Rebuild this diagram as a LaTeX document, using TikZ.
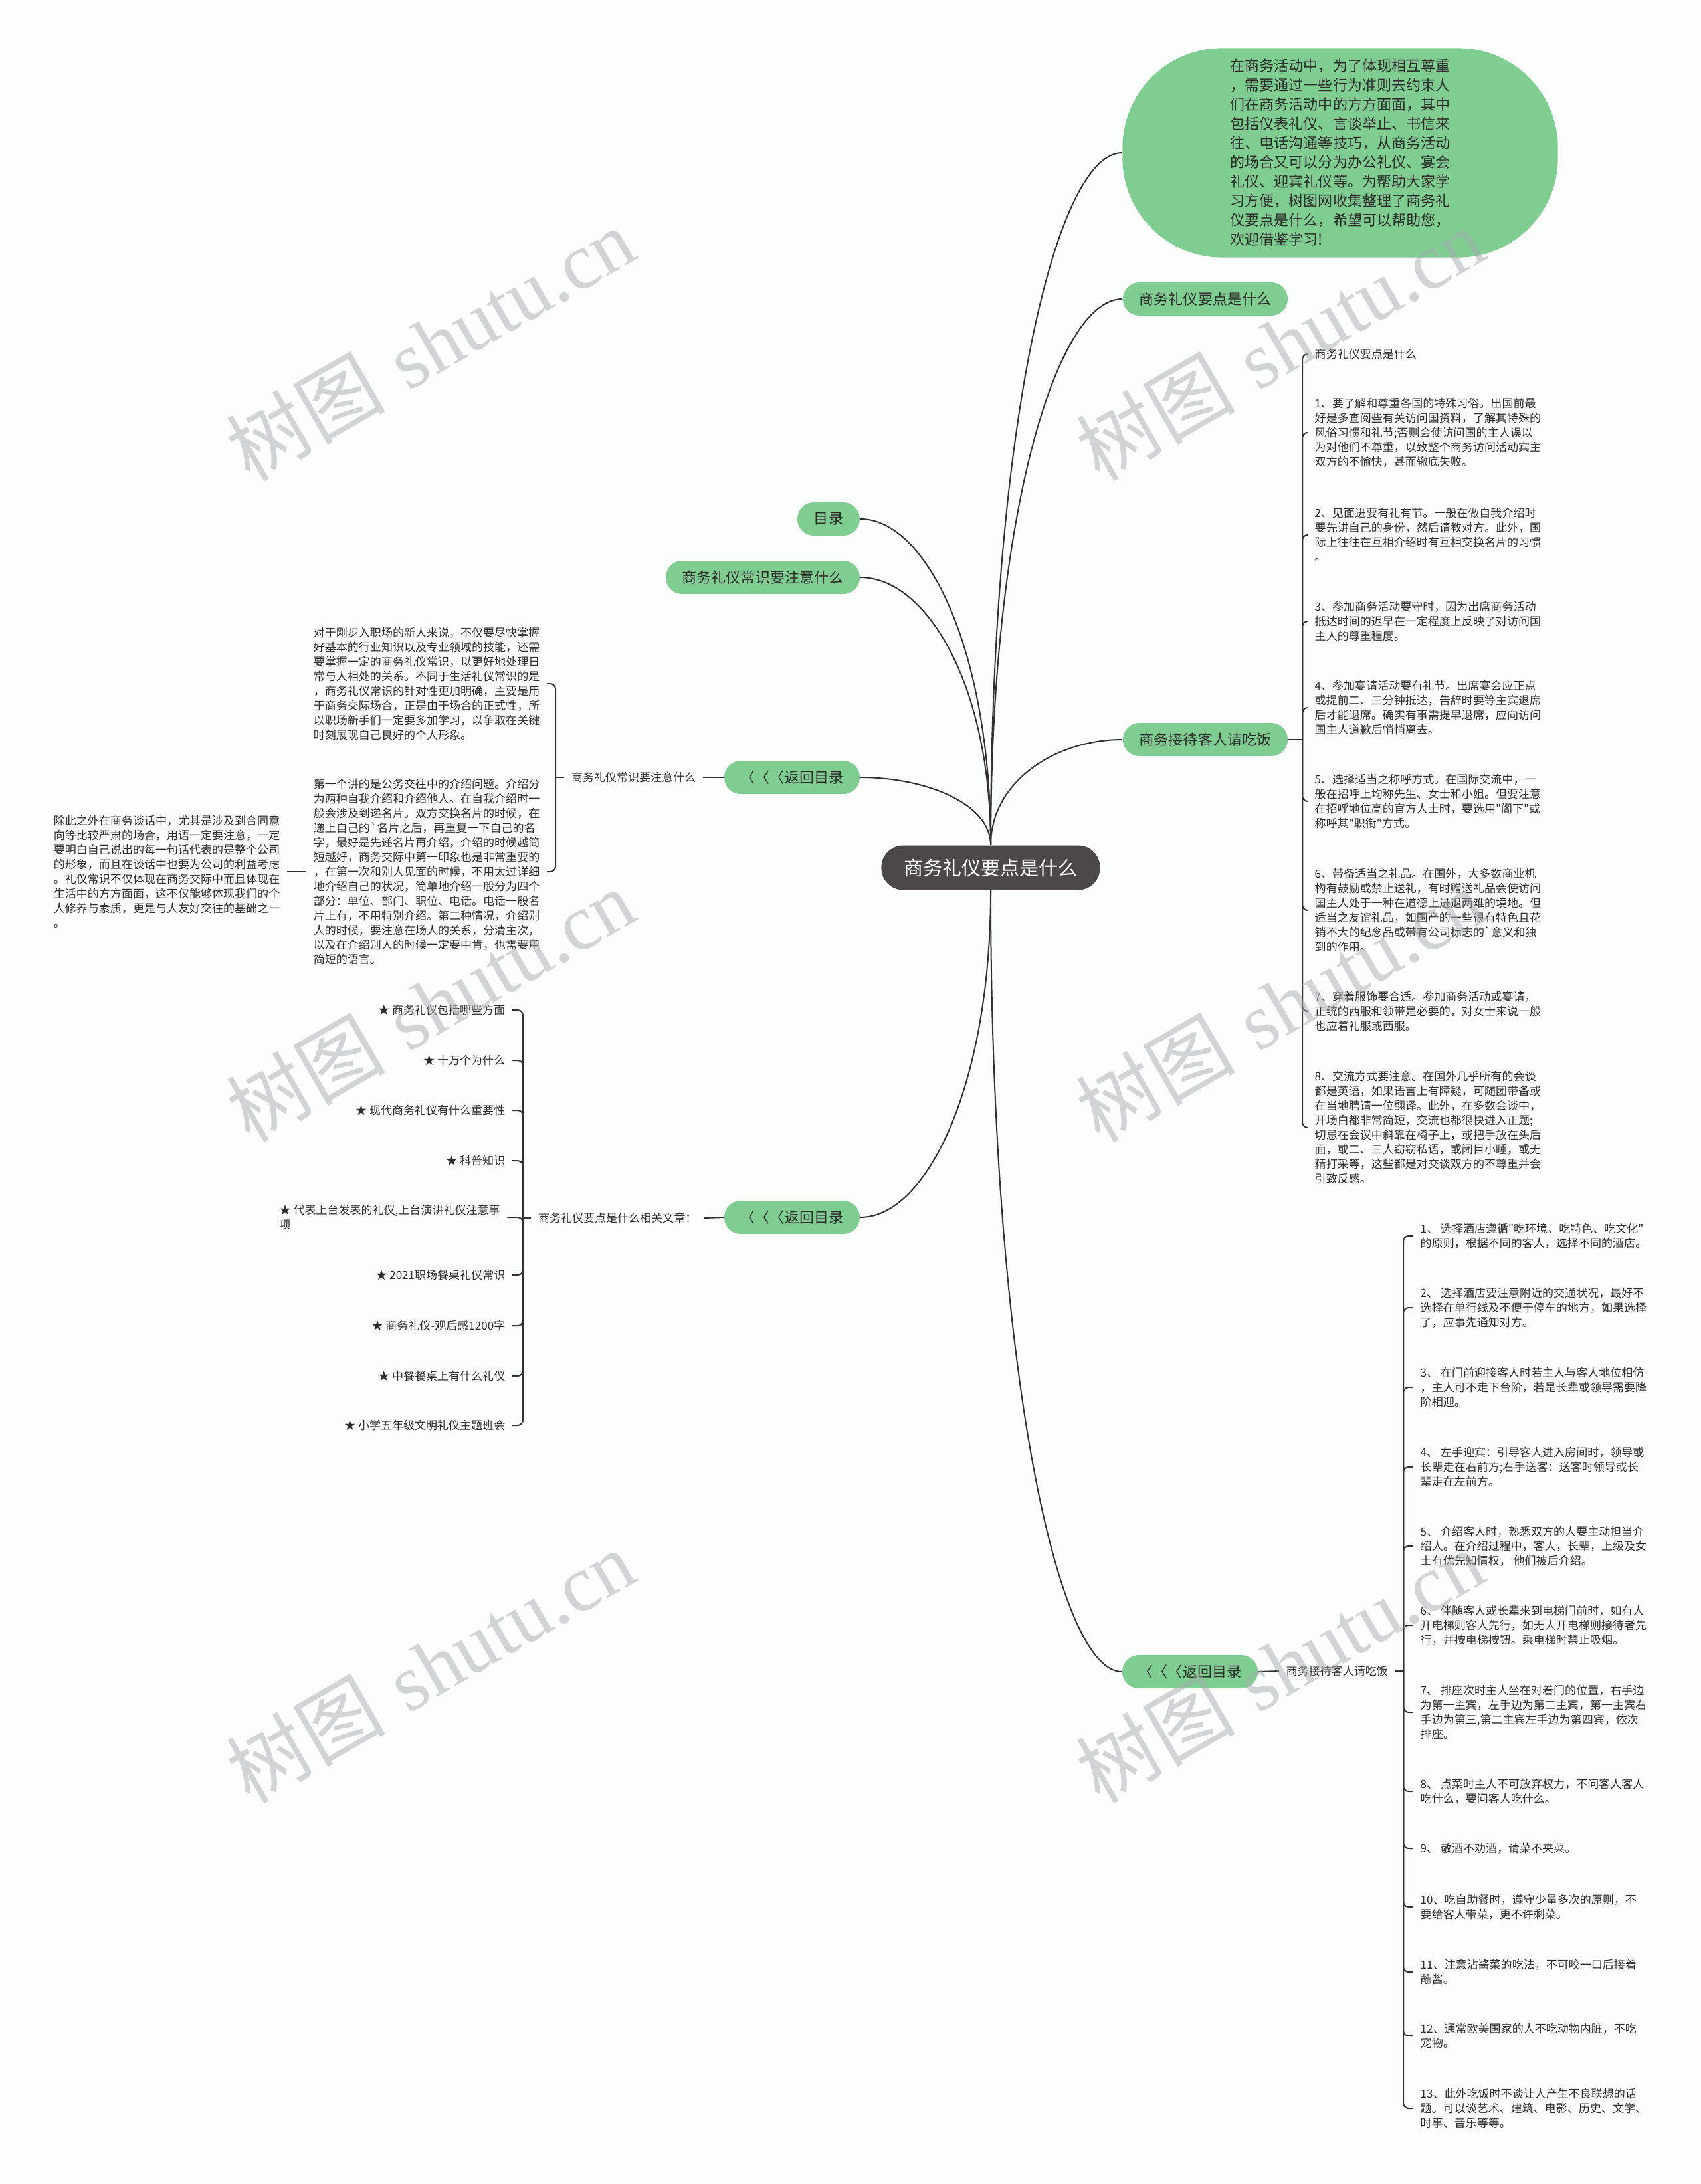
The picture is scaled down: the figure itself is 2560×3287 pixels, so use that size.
\documentclass[tikz,border=0pt]{standalone}
\usepackage{fontspec}
\newfontfamily\cjk{Noto Sans CJK SC}
\newfontfamily\wmfont{Liberation Serif}

\definecolor{leaf}{RGB}{128,205,146}
\definecolor{rootgray}{RGB}{77,72,72}
\definecolor{ink}{RGB}{45,45,45}
\definecolor{wire}{RGB}{50,48,48}
\definecolor{paper}{RGB}{252,253,253}
\definecolor{wmgray}{RGB}{165,172,172}

\tikzset{
  topic/.style={fill=leaf, rounded corners=2.5mm, minimum height=5mm, inner xsep=2.5mm, inner ysep=0pt, text=ink, font=\cjk\fontsize{6.26}{7.5}\selectfont},
  rootnode/.style={fill=rootgray, rounded corners=3.3mm, minimum height=6.7mm, inner xsep=3.4mm, inner ysep=0pt, text=white, font=\cjk\fontsize{8.25}{10}\selectfont},
  bubble/.style={fill=leaf, rounded corners=15mm, minimum width=65.5mm, minimum height=31.5mm, align=left, text=ink, font=\cjk\fontsize{6.26}{8.25}\selectfont},
  leaftext/.style={inner xsep=1mm, inner ysep=0pt, align=left, text=ink, font=\cjk\fontsize{4.84}{6.26}\selectfont},
  link/.style={draw=wire, line width=0.2mm},
  hook/.style={link, rounded corners=0.8mm},
  wmark/.style={rotate=30, text=wmgray, text opacity=0.5, font=\fontsize{34}{34}\selectfont}
}

\begin{document}
\begin{tikzpicture}[x=0.01cm, y=-0.01cm]

% page
\fill[paper] (0,0) rectangle (2560,3287);
\useasboundingbox (0,0) rectangle (2560,3287);

% main topics
\node[rootnode] (root) at (1491,1306) {商务礼仪要点是什么};
\node[bubble] (intro) at (2017,230) {在商务活动中，为了体现相互尊重\\，需要通过一些行为准则去约束人\\们在商务活动中的方方面面，其中\\包括仪表礼仪、言谈举止、书信来\\往、电话沟通等技巧，从商务活动\\的场合又可以分为办公礼仪、宴会\\礼仪、迎宾礼仪等。为帮助大家学\\习方便，树图网收集整理了商务礼\\仪要点是什么，希望可以帮助您，\\欢迎借鉴学习!};
\node[topic] (keypts) at (1814,450) {商务礼仪要点是什么};
\node[topic] (dine) at (1814,1113) {商务接待客人请吃饭};
\node[topic] (toc) at (1247,781) {目录};
\node[topic] (know) at (1148,869) {商务礼仪常识要注意什么};
\node[topic] (back1) at (1192,1170) {〈〈〈返回目录};
\node[topic] (back2) at (1192,1832) {〈〈〈返回目录};
\node[topic] (back3) at (1791,2516) {〈〈〈返回目录};

% curves from the root
\draw[link] (root.north) .. controls +(0,-626) and +(-100,0) .. (intro.west);
\draw[link] (root.north) .. controls +(0,-494) and +(-100,0) .. (keypts.west);
\draw[link] (root.north) .. controls +(0,-96) and +(-100,0) .. (dine.west);
\draw[link] (root.north) .. controls +(0,-295) and +(99,0) .. (toc.east);
\draw[link] (root.north) .. controls +(0,-242) and +(99,0) .. (know.east);
\draw[link] (root.north) .. controls +(0,-62) and +(99,0) .. (back1.east);
\draw[link] (root.south) .. controls +(0,295) and +(99,0) .. (back2.east);
\draw[link] (root.south) .. controls +(0,706) and +(-99,0) .. (back3.west);

% right upper list
\node[leaftext, anchor=west] (r0) at (1968,533) {商务礼仪要点是什么};
\node[leaftext, anchor=west] (r1) at (1968,651) {1、要了解和尊重各国的特殊习俗。出国前最\\好是多查阅些有关访问国资料，了解其特殊的\\风俗习惯和礼节;否则会使访问国的主人误以\\为对他们不尊重，以致整个商务访问活动宾主\\双方的不愉快，甚而辙底失败。};
\node[leaftext, anchor=west] (r2) at (1968,805) {2、见面进要有礼有节。一般在做自我介绍时\\要先讲自己的身份，然后请教对方。此外，国\\际上往往在互相介绍时有互相交换名片的习惯\\。};
\node[leaftext, anchor=west] (r3) at (1968,935) {3、参加商务活动要守时，因为出席商务活动\\抵达时间的迟早在一定程度上反映了对访问国\\主人的尊重程度。};
\node[leaftext, anchor=west] (r4) at (1968,1065) {4、参加宴请活动要有礼节。出席宴会应正点\\或提前二、三分钟抵达，告辞时要等主宾退席\\后才能退席。确实有事需提早退席，应向访问\\国主人道歉后悄悄离去。};
\node[leaftext, anchor=west] (r5) at (1968,1206) {5、选择适当之称呼方式。在国际交流中，一\\般在招呼上均称先生、女士和小姐。但要注意\\在招呼地位高的官方人士时，要选用"阁下"或\\称呼其"职衔"方式。};
\node[leaftext, anchor=west] (r6) at (1968,1370) {6、带备适当之礼品。在国外，大多数商业机\\构有鼓励或禁止送礼，有时赠送礼品会使访问\\国主人处于一种在道德上进退两难的境地。但\\适当之友谊礼品，如国产的一些很有特色且花\\销不大的纪念品或带有公司标志的`意义和独\\到的作用。};
\node[leaftext, anchor=west] (r7) at (1968,1522) {7、穿着服饰要合适。参加商务活动或宴请，\\正统的西服和领带是必要的，对女士来说一般\\也应着礼服或西服。};
\node[leaftext, anchor=west] (r8) at (1968,1697) {8、交流方式要注意。在国外几乎所有的会谈\\都是英语，如果语言上有障疑，可随团带备或\\在当地聘请一位翻译。此外，在多数会谈中，\\开场白都非常简短，交流也都很快进入正题;\\切忌在会议中斜靠在椅子上，或把手放在头后\\面，或二、三人窃窃私语，或闭目小睡，或无\\精打采等，这些都是对交谈双方的不尊重并会\\引致反感。};
\coordinate (jA) at (1960,1113);
\draw[link] (dine.east) -- (jA);
\foreach \c in {r0,r1,r2,r3,r4,r5,r6,r7,r8}
  \draw[hook] (jA) |- (\c.west);

% left upper branch
\node[leaftext, anchor=east] (kn) at (1058,1170) {商务礼仪常识要注意什么};
\node[leaftext, anchor=east] (l1) at (823,1029) {对于刚步入职场的新人来说，不仅要尽快掌握\\好基本的行业知识以及专业领域的技能，还需\\要掌握一定的商务礼仪常识，以更好地处理日\\常与人相处的关系。不同于生活礼仪常识的是\\，商务礼仪常识的针对性更加明确，主要是用\\于商务交际场合，正是由于场合的正式性，所\\以职场新手们一定要多加学习，以争取在关键\\时刻展现自己良好的个人形象。};
\node[leaftext, anchor=east] (l2) at (823,1312) {第一个讲的是公务交往中的介绍问题。介绍分\\为两种自我介绍和介绍他人。在自我介绍时一\\般会涉及到递名片。双方交换名片的时候，在\\递上自己的`名片之后，再重复一下自己的名\\字，最好是先递名片再介绍，介绍的时候越简\\短越好，商务交际中第一印象也是非常重要的\\，在第一次和别人见面的时候，不用太过详细\\地介绍自己的状况，简单地介绍一般分为四个\\部分：单位、部门、职位、电话。电话一般名\\片上有，不用特别介绍。第二种情况，介绍别\\人的时候，要注意在场人的关系，分清主次，\\以及在介绍别人的时候一定要中肯，也需要用\\简短的语言。};
\node[leaftext, anchor=east] (f1) at (432,1312) {除此之外在商务谈话中，尤其是涉及到合同意\\向等比较严肃的场合，用语一定要注意，一定\\要明白自己说出的每一句话代表的是整个公司\\的形象，而且在谈话中也要为公司的利益考虑\\。礼仪常识不仅体现在商务交际中而且体现在\\生活中的方方面面，这不仅能够体现我们的个\\人修养与素质，更是与人友好交往的基础之一\\。};
\coordinate (jB) at (836,1170);
\draw[link] (back1.west) -- (kn.east);
\draw[link] (kn.west) -- (jB);
\foreach \c in {l1,l2}
  \draw[hook] (jB) |- (\c.east);
\draw[link] (l2.west) -- (f1.east);

% left lower branch
\node[leaftext, anchor=east] (rel) at (1059,1833) {商务礼仪要点是什么相关文章：};
\node[leaftext, anchor=east] (s1) at (771,1520) {★ 商务礼仪包括哪些方面};
\node[leaftext, anchor=east] (s2) at (771,1596) {★ 十万个为什么};
\node[leaftext, anchor=east] (s3) at (771,1671) {★ 现代商务礼仪有什么重要性};
\node[leaftext, anchor=east] (s4) at (771,1747) {★ 科普知识};
\node[leaftext, anchor=west] (s5) at (410,1832) {★ 代表上台发表的礼仪,上台演讲礼仪注意事\\项};
\node[leaftext, anchor=east] (s6) at (771,1919) {★ 2021职场餐桌礼仪常识};
\node[leaftext, anchor=east] (s7) at (771,1995) {★ 商务礼仪-观后感1200字};
\node[leaftext, anchor=east] (s8) at (771,2071) {★ 中餐餐桌上有什么礼仪};
\node[leaftext, anchor=east] (s9) at (771,2145) {★ 小学五年级文明礼仪主题班会};
\coordinate (jC) at (787,1833);
\draw[link] (back2.west) -- (rel.east);
\draw[link] (rel.west) -- (jC);
\foreach \c in {s1,s2,s3,s4,s5,s6,s7,s8,s9}
  \draw[hook] (jC) |- (\c.east);

% right lower branch
\node[leaftext, anchor=west] (dn) at (1925,2515) {商务接待客人请吃饭};
\node[leaftext, anchor=west] (t1) at (2127,1860) {1、 选择酒店遵循"吃环境、吃特色、吃文化"\\的原则，根据不同的客人，选择不同的酒店。};
\node[leaftext, anchor=west] (t2) at (2127,1968) {2、 选择酒店要注意附近的交通状况，最好不\\选择在单行线及不便于停车的地方，如果选择\\了，应事先通知对方。};
\node[leaftext, anchor=west] (t3) at (2127,2088) {3、 在门前迎接客人时若主人与客人地位相仿\\，主人可不走下台阶，若是长辈或领导需要降\\阶相迎。};
\node[leaftext, anchor=west] (t4) at (2127,2208) {4、 左手迎宾：引导客人进入房间时，领导或\\长辈走在右前方;右手送客：送客时领导或长\\辈走在左前方。};
\node[leaftext, anchor=west] (t5) at (2127,2327) {5、 介绍客人时，熟悉双方的人要主动担当介\\绍人。在介绍过程中，客人，长辈，上级及女\\士有优先知情权， 他们被后介绍。};
\node[leaftext, anchor=west] (t6) at (2127,2446) {6、 伴随客人或长辈来到电梯门前时，如有人\\开电梯则客人先行，如无人开电梯则接待者先\\行，并按电梯按钮。乘电梯时禁止吸烟。};
\node[leaftext, anchor=west] (t7) at (2127,2577) {7、 排座次时主人坐在对着门的位置，右手边\\为第一主宾，左手边为第二主宾，第一主宾右\\手边为第三,第二主宾左手边为第四宾，依次\\排座。};
\node[leaftext, anchor=west] (t8) at (2127,2696) {8、 点菜时主人不可放弃权力，不问客人客人\\吃什么，要问客人吃什么。};
\node[leaftext, anchor=west] (t9) at (2127,2782) {9、 敬酒不劝酒，请菜不夹菜。};
\node[leaftext, anchor=west] (t10) at (2127,2870) {10、吃自助餐时，遵守少量多次的原则，不\\要给客人带菜，更不许剩菜。};
\node[leaftext, anchor=west] (t11) at (2127,2968) {11、注意沾酱菜的吃法，不可咬一口后接着\\蘸酱。};
\node[leaftext, anchor=west] (t12) at (2127,3064) {12、通常欧美国家的人不吃动物内脏，不吃\\宠物。};
\node[leaftext, anchor=west] (t13) at (2127,3173) {13、此外吃饭时不谈让人产生不良联想的话\\题。可以谈艺术、建筑、电影、历史、文学、\\时事、音乐等等。};
\coordinate (jD) at (2112,2515);
\draw[link] (back3.east) -- (dn.west);
\draw[link] (dn.east) -- (jD);
\foreach \c in {t1,t2,t3,t4,t5,t6,t7,t8,t9,t10,t11,t12,t13}
  \draw[hook] (jD) |- (\c.west);

% watermarks
\foreach \wx in {647,1926}
  \foreach \wy in {518,1513,2508}
    \node[wmark] at (\wx,\wy) {{\cjk 树图} {\wmfont shutu.cn}};

\end{tikzpicture}
\end{document}
